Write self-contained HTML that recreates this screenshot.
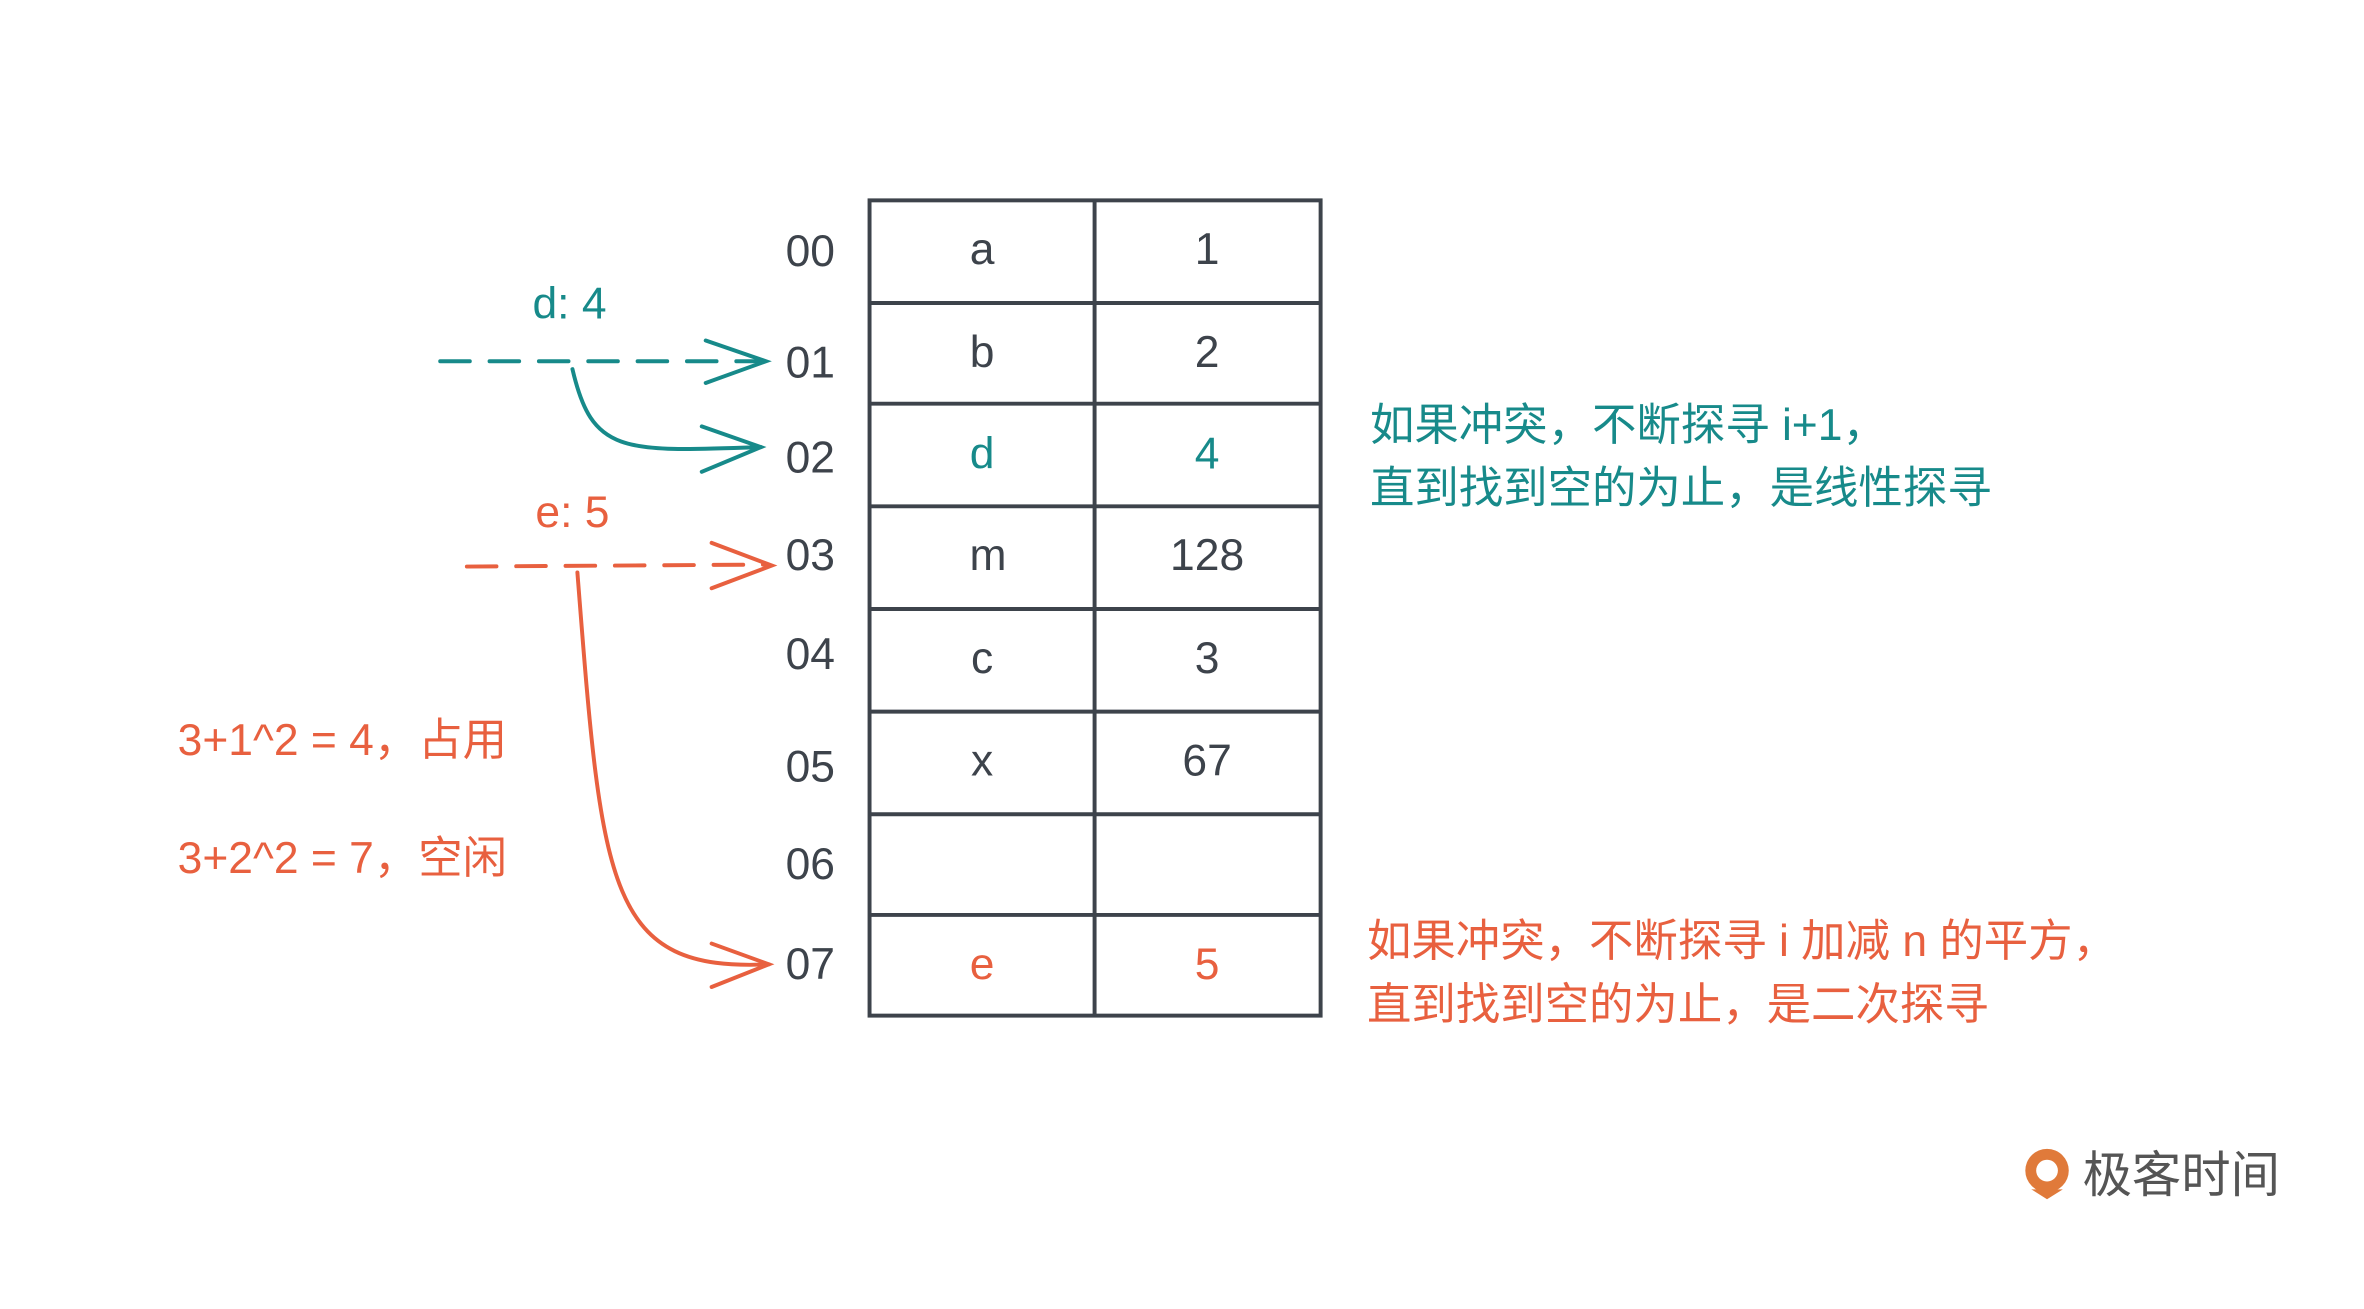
<!DOCTYPE html>
<html><head><meta charset="utf-8"><style>
body{margin:0;background:#fff}
svg text{font-family:"Liberation Sans","Noto Sans CJK SC",sans-serif}
</style></head><body>
<svg width="2364" height="1304" viewBox="0 0 2364 1304" xmlns="http://www.w3.org/2000/svg">
<rect width="2364" height="1304" fill="#fff"/>
<g transform="scale(0.987)">
<g stroke="#3d434b" stroke-width="4" fill="none">
<rect x="881" y="203" width="457" height="826"/>
<line x1="1109" y1="203" x2="1109" y2="1029"/>
<line x1="881" y1="307" x2="1338" y2="307"/>
<line x1="881" y1="409" x2="1338" y2="409"/>
<line x1="881" y1="513" x2="1338" y2="513"/>
<line x1="881" y1="617" x2="1338" y2="617"/>
<line x1="881" y1="721" x2="1338" y2="721"/>
<line x1="881" y1="825" x2="1338" y2="825"/>
<line x1="881" y1="927" x2="1338" y2="927"/>
</g>
<g font-size="45" fill="#3d434b" text-anchor="middle" dominant-baseline="central">
<text x="821" y="255">00</text><text x="821" y="368">01</text><text x="821" y="464">02</text>
<text x="821" y="563">03</text><text x="821" y="663">04</text><text x="821" y="777">05</text>
<text x="821" y="876">06</text><text x="821" y="977">07</text>
<text x="995" y="253">a</text><text x="1223" y="253">1</text>
<text x="995" y="357">b</text><text x="1223" y="357">2</text>
<text x="995" y="460" fill="#178a8a">d</text><text x="1223" y="460" fill="#178a8a">4</text>
<text x="1001" y="563">m</text><text x="1223" y="563">128</text>
<text x="995" y="667">c</text><text x="1223" y="667">3</text>
<text x="995" y="771">x</text><text x="1223" y="771">67</text>
<text x="995" y="977" fill="#e8603f">e</text><text x="1223" y="977" fill="#e8603f">5</text>
</g>
<g stroke="#178a8a" stroke-width="4" fill="none" stroke-linecap="round">
<line x1="446" y1="366" x2="770" y2="366" stroke-dasharray="30,20"/>
<polyline points="715,345 776,366 715,388"/>
<path d="M580 374 C600 460,630 458,771 453"/>
<polyline points="711,432 771,453 711,478"/>
</g>
<g stroke="#e8603f" stroke-width="4" fill="none" stroke-linecap="round">
<line x1="473" y1="574" x2="776" y2="572" stroke-dasharray="30,20"/>
<polyline points="721,550 782,573 721,596"/>
<path d="M585 580 C610 900,615 985,779 977"/>
<polyline points="721,956 779,977 721,1000"/>
</g>
<text x="577" y="308" font-size="45" fill="#178a8a" text-anchor="middle" dominant-baseline="central">d: 4</text>
<text x="580" y="519" font-size="45" fill="#e8603f" text-anchor="middle" dominant-baseline="central">e: 5</text>
<g font-size="45" fill="#e8603f" dominant-baseline="central">
<text x="180" y="750">3+1^2 = 4，占用</text>
<text x="180" y="870">3+2^2 = 7，空闲</text>
</g>
<g font-size="45" fill="#178a8a" dominant-baseline="central">
<text x="1388" y="431">如果冲突，不断探寻 i+1，</text>
<text x="1388" y="495">直到找到空的为止，是线性探寻</text>
</g>
<g font-size="45" fill="#e8603f" dominant-baseline="central">
<text x="1385" y="954">如果冲突，不断探寻 i 加减 n 的平方，</text>
<text x="1385" y="1018">直到找到空的为止，是二次探寻</text>
</g>
<g>
<circle cx="2074" cy="1186" r="22" fill="#e07a3a"/>
<circle cx="2074" cy="1186" r="11" fill="#fff"/>
<path d="M2058 1205 L2074 1215 L2090 1205 Z" fill="#e07a3a"/>
<text x="2110" y="1191" font-size="50" fill="#555" dominant-baseline="central">极客时间</text>
</g>
</g>
</svg>
</body></html>
